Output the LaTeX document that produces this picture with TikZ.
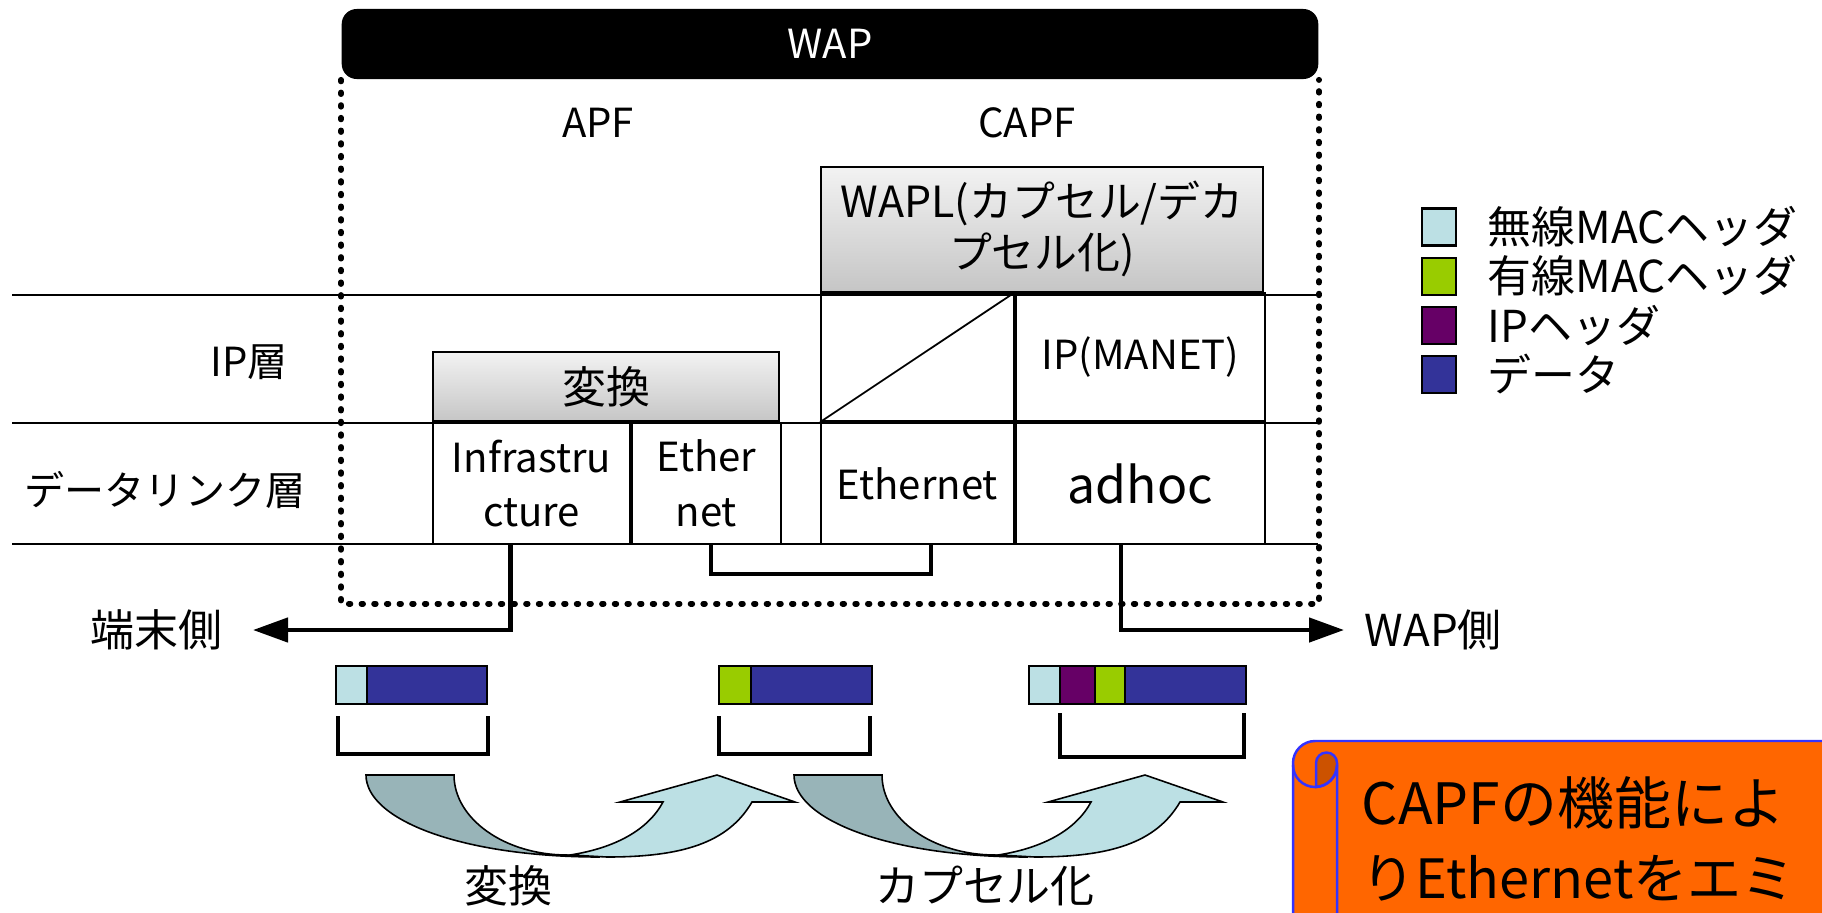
\documentclass[tikz,border=0pt]{standalone}
\usepackage{fontspec}
\setmainfont{Noto Sans CJK JP}
\usetikzlibrary{arrows.meta, positioning}
\definecolor{wlmac}{HTML}{BCE0E4}
\definecolor{wdmac}{HTML}{99CC00}
\definecolor{iphdr}{HTML}{660066}
\definecolor{payload}{HTML}{333399}
\definecolor{uback}{HTML}{98B4B8}
\definecolor{notefill}{HTML}{FF6600}
\definecolor{notecurl}{HTML}{CC5200}
\definecolor{noteline}{HTML}{3333FF}
\tikzset{> = { Triangle[length = 3.5mm, width = 2.4mm] }}

\begin{document}
\begin{tikzpicture}[x = 0.01cm, y = -0.01cm, font = \fontsize{11.4}{15.6}\selectfont,
    cell/.style = { draw, line width = 0.5pt, inner sep = 0pt, align = center },
    hdr/.style = { cell, top color = gray!10, bottom color = gray!45 },
    lane/.style = { line width = 0.55pt },
    wire/.style = { line width = 1.3pt },
    frame/.style = { line width = 1.6pt, line cap = round, dash pattern = on 0.5pt off 3.1pt },
    pkt/.style = { draw, line width = 0.6pt },
    legend/.style = { pkt, minimum width = 0.34cm, minimum height = 0.37cm, inner sep = 0pt },
    big/.style = { font = \fontsize{12.5}{15}\selectfont },
    turn/.style = { draw, line width = 0.45pt }]
    \useasboundingbox (0,0) rectangle (1822,912);

    % WAP and its dotted frame
    \node [fill, rounded corners = 1.5mm, minimum width = 9.76cm, minimum height = 0.7cm, text = white] (wap) at (830,44) {WAP};
    \draw [frame] (wap.south west) -- ++(0,524) -| (wap.south east);

    \node (apf)  at (598,123)  {APF};
    \node (capf) at (1027,123) {CAPF};

    \foreach \y in {295, 423, 544}
        \draw [lane] (12,\y) -- (1318,\y);

    \node (iplayer) at (249,362) {IP層};
    \node (dllayer) at (165,490) {データリンク層};

    % APF side
    \node [cell, minimum width = 1.97cm, minimum height = 1.21cm] (infra) at (531.5,483.5) {Infrastru\\cture};
    \node [cell, minimum width = 1.49cm, minimum height = 1.21cm, right = 0pt of infra] (ether) {Ether\\net};
    \node [hdr, big, minimum width = 3.46cm, minimum height = 0.69cm, anchor = south west] (conv) at (infra.north west) {変換};

    % CAPF side
    \node [cell, minimum width = 1.93cm, minimum height = 1.21cm] (ethcap) at (917.5,483.5) {Ethernet};
    \node [cell, minimum width = 2.49cm, minimum height = 1.21cm, right = 0pt of ethcap, font = \fontsize{14.2}{16}\selectfont] (adhoc) {adhoc};
    \node [cell, minimum width = 1.93cm, minimum height = 1.28cm, anchor = south] (noip) at (ethcap.north) {};
    \node [cell, minimum width = 2.49cm, minimum height = 1.28cm, anchor = south] (manet) at (adhoc.north) {IP(MANET)};
    \node [hdr, minimum width = 4.42cm, minimum height = 1.24cm, anchor = south west, font = \fontsize{12.2}{14.5}\selectfont] (wapl) at (noip.north west) {WAPL(カプセル/デカ\\プセル化)};
    \draw [line width = 0.5pt] (noip.south west) -- (noip.north east);

    % to both sides
    \node [big, anchor = east, inner xsep = 3mm] (termside) at (253,630) {端末側};
    \node [big, anchor = west, inner xsep = 2mm] (wapside) at (1344,630) {WAP側};
    \draw [wire, ->] ([xshift = -2.1mm]infra.south) |- (termside);
    \draw [wire, ->] ([xshift = -1.95mm]adhoc.south) |- (wapside);
    \draw [wire] ([xshift = 0.45mm]ether.south) -- ++(0,29) -| ([xshift = 1.35mm]ethcap.south);

    % frames
    \foreach \a/\b/\c in {336/367/wlmac, 367/487/payload, 719/751/wdmac, 751/872/payload,
                          1029/1060/wlmac, 1060/1095/iphdr, 1095/1125/wdmac, 1125/1246/payload}
        \draw [pkt, fill = \c] (\a,666) rectangle (\b,704);

    \draw [wire] (338,716) |- (488,754) -- (488,716);
    \draw [wire] (719,716) |- (870,754) -- (870,716);
    \draw [wire] (1060,713) |- (1244,757) -- (1244,713);

    % curved arrows
    \foreach \sh in {0, 428} {
        \begin{scope}[shift = {(\sh,0)}]
            \draw [turn, fill = uback] (366,775) -- (454,775) .. controls (454,819) and (505,855) .. (567,855)
                -- (600,857) .. controls (462,857) and (366,820) .. (366,775) -- cycle;
            \draw [turn, fill = wlmac] (570,855) .. controls (615,848) and (648,830) .. (663,802)
                -- (620,802) -- (717,775) -- (795,802) -- (752,802)
                .. controls (728,843) and (682,857) .. (607,857) -- cycle;
        \end{scope}
    }
    \node [big] (convlbl) at (508,886) {変換};
    \node [big] (capslbl) at (985,886) {カプセル化};

    % legend
    \node [legend, fill = wlmac] (lg1) at (1439,227) {};
    \node [legend, fill = wdmac,   below = 0.1cm of lg1] (lg2) {};
    \node [legend, fill = iphdr,   below = 0.1cm of lg2] (lg3) {};
    \node [legend, fill = payload, below = 0.1cm of lg3] (lg4) {};
    \node [big, inner sep = 0pt, right = 0.3cm of lg1] (lt1) {無線MACヘッダ};
    \node [big, inner sep = 0pt, right = 0.3cm of lg2] (lt2) {有線MACヘッダ};
    \node [big, inner sep = 0pt, right = 0.3cm of lg3] (lt3) {IPヘッダ};
    \node [big, inner sep = 0pt, right = 0.3cm of lg4] (lt4) {データ};

    % note scroll
    \draw [noteline, fill = notefill, line width = 0.7pt] (1293,940) {[rounded corners = 2.2mm] -- (1293,741) -- (1850,741)} -- (1850,940) -- cycle;
    \draw [noteline, fill = notecurl, line width = 0.7pt] (1316,763) arc [start angle = 180, end angle = 360, radius = 10.5]
        -- (1337,765) arc [start angle = 0, end angle = 87, radius = 22] -- cycle;
    \draw [noteline, line width = 0.7pt] (1293,765) arc [start angle = 180, end angle = 0, radius = 22] -- (1337,940);
    \node [anchor = base west, inner sep = 0pt, font = \fontsize{16.2}{22}\selectfont] (note1) at (1361,824) {CAPFの機能によ};
    \node [anchor = base west, inner sep = 0pt, font = \fontsize{15.4}{22}\selectfont] (note2) at (1361,898) {りEthernetをエミ};
\end{tikzpicture}
\end{document}
